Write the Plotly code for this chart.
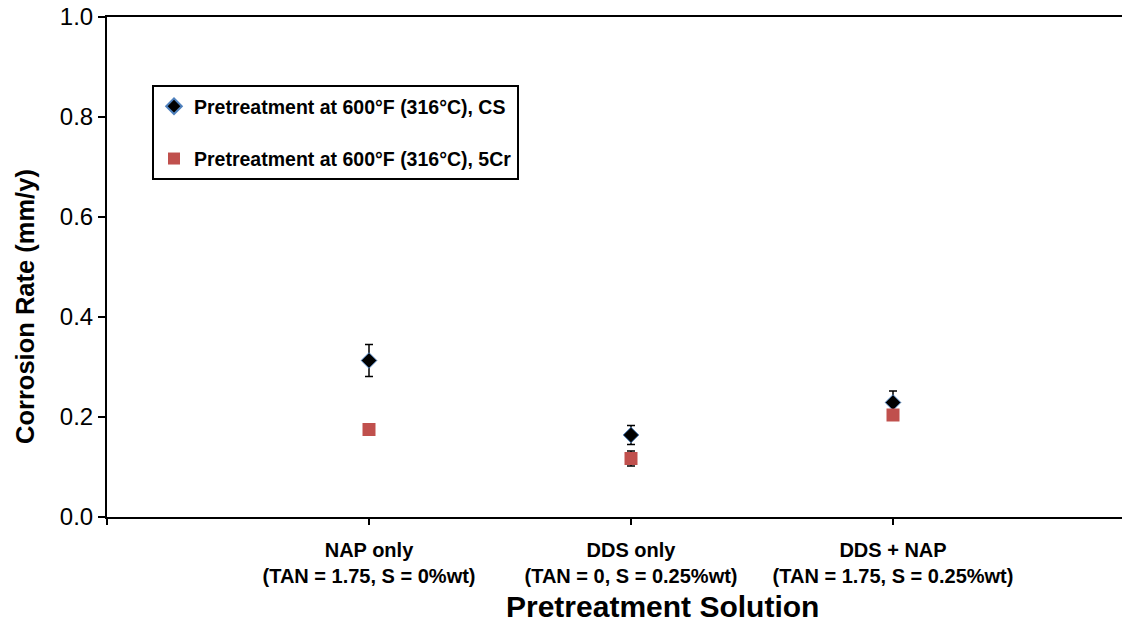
import plotly.graph_objects as go

categories = ["NAP only<br>(TAN = 1.75, S = 0%wt)",
              "DDS only<br>(TAN = 0, S = 0.25%wt)",
              "DDS + NAP<br>(TAN = 1.75, S = 0.25%wt)"]
x_pos = [1, 2, 3]
cs_values = [0.313, 0.164, 0.229]
cs_errors = [0.032, 0.019, 0.023]
cr5_values = [0.175, 0.117, 0.204]
cr5_errors = [0.008, 0.015, 0.008]
y_ticks = [0.0, 0.2, 0.4, 0.6, 0.8, 1.0]

FONT = "Arial, Liberation Sans, sans-serif"

fig = go.Figure()
fig.add_trace(go.Scatter(
    x=x_pos, y=cs_values, mode="markers",
    name="<b>Pretreatment at 600°F (316°C), CS</b>",
    marker=dict(symbol="diamond", size=12, color="black",
                line=dict(color="#4F81BD", width=1)),
    error_y=dict(type="data", array=cs_errors, color="black",
                 thickness=1.5, width=4),
    legendgroup="a",
))
fig.add_trace(go.Scatter(
    x=x_pos, y=cr5_values, mode="markers",
    name="<b>Pretreatment at 600°F (316°C), 5Cr</b>",
    marker=dict(symbol="square", size=13, color="#C0504D"),
    error_y=dict(type="data", array=cr5_errors, color="black",
                 thickness=1.5, width=4),
    legendgroup="b",
))

W, H = 1122, 623
L, T, B = 107, 17, 106
plot_w = W - L
px_per_unit = 262
fig.update_layout(
    width=W, height=H,
    margin=dict(l=L, r=0, t=T, b=B),
    paper_bgcolor="white", plot_bgcolor="white",
    font=dict(family=FONT, color="black"),
    showlegend=True,
    legend=dict(
        x=(152 - 107) / plot_w, y=(517 - 85) / 500,
        xanchor="left", yanchor="top",
        bordercolor="black", borderwidth=2, bgcolor="white",
        font=dict(size=19.5, family=FONT, color="black"),
        traceorder="grouped", tracegroupgap=24,
        itemsizing="constant", itemwidth=30,
    ),
    xaxis=dict(
        range=[0, plot_w / px_per_unit],
        tickvals=[0] + x_pos, ticktext=[""] + categories,
        ticks="outside", ticklen=6, tickwidth=1.5, tickcolor="black",
        showline=True, linecolor="black", linewidth=2, mirror=True,
        showgrid=False, zeroline=False, ticklabelstandoff=8,
        tickfont=dict(size=20, family=FONT, color="black", weight="bold"),
    ),
    yaxis=dict(
        range=[0, 1.0],
        tickvals=y_ticks, tickformat=".1f",
        ticks="outside", ticklen=7, tickwidth=1.5, tickcolor="black",
        showline=True, linecolor="black", linewidth=2,
        showgrid=False, zeroline=False,
        tickfont=dict(size=24, family=FONT, color="black"),
    ),
    annotations=[
        dict(text="<b>Corrosion Rate (mm/y)</b>", xref="paper", yref="paper",
             x=-(107 - 25) / plot_w, y=(517 - 307) / 500, textangle=-90,
             showarrow=False, font=dict(size=25.5, family=FONT, color="black"),
             xanchor="center", yanchor="middle"),
        dict(text="<b>Pretreatment Solution</b>", xref="paper", yref="paper",
             x=(662 - 107) / plot_w, y=-(606 - 517) / 500,
             showarrow=False, font=dict(size=30, family=FONT, color="black"),
             xanchor="center", yanchor="middle"),
    ],
)

fig.write_html("out.html",
               config={"displayModeBar": False},
               post_script="document.body.style.margin='0';document.body.style.overflow='hidden';")
